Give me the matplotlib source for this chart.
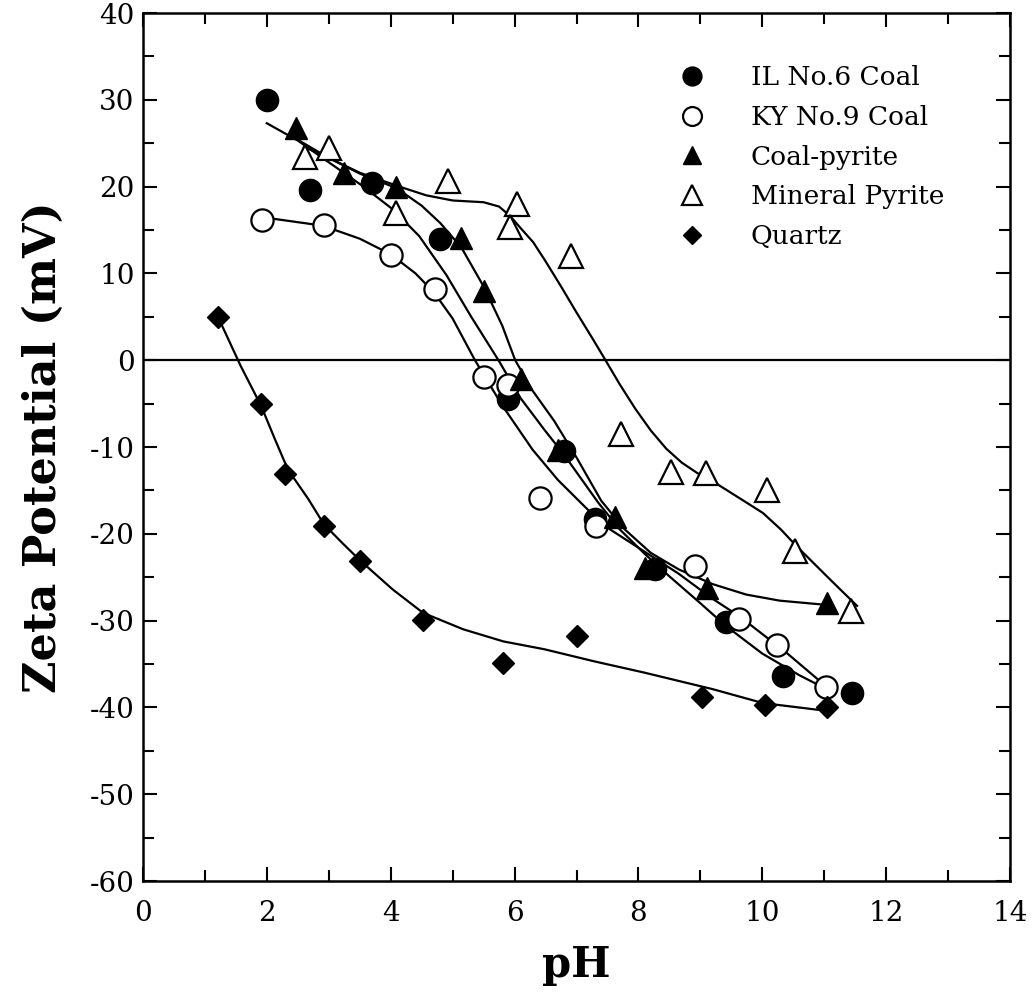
import matplotlib
matplotlib.use("Agg")
import matplotlib.pyplot as plt
from matplotlib.ticker import MultipleLocator

plt.rcParams['font.family'] = ['DejaVu Serif']
plt.rcParams['axes.unicode_minus'] = False

# measured points
il_x = [2.0, 2.7, 3.7, 4.8, 5.9, 6.8, 7.3, 8.27, 9.41, 10.34, 11.45]
il_y = [30.0, 19.6, 20.4, 14.0, -4.5, -10.5, -18.3, -24.1, -30.2, -36.4, -38.3]

ky_x = [1.92, 2.92, 4.0, 4.71, 5.51, 5.9, 6.41, 7.31, 8.92, 9.63, 10.23, 11.03]
ky_y = [16.1, 15.6, 12.1, 8.2, -1.9, -2.8, -15.9, -19.1, -23.7, -29.8, -32.8, -37.7]

cp_x = [2.47, 3.24, 4.08, 5.14, 5.51, 6.11, 6.7, 7.62, 8.11, 9.11, 11.05]
cp_y = [26.8, 21.6, 19.9, 14.1, 8.0, -2.2, -10.4, -18.1, -23.9, -26.2, -28.0]

mp_x = [2.62, 3.0, 4.08, 4.92, 6.04, 5.93, 6.91, 7.72, 8.53, 9.09, 10.07, 10.53, 11.44]
mp_y = [23.4, 24.5, 17.0, 20.7, 18.0, 15.3, 12.0, -8.5, -12.9, -13.0, -15.0, -22.0, -28.9]

qz_x = [1.21, 1.91, 2.30, 2.92, 3.51, 4.52, 5.82, 7.01, 9.03, 10.04, 11.04]
qz_y = [5.0, -5.1, -13.1, -19.1, -23.1, -29.9, -34.9, -31.8, -38.8, -39.7, -39.9]

# fitted curves
il_cx = [2.0, 2.5, 3.0, 3.54, 4.03, 4.46, 4.9, 5.3, 5.74, 6.1, 6.48, 6.8, 7.1, 7.35, 7.7, 8.1, 8.5, 9.0, 9.41, 10.0, 10.6, 11.15]
il_cy = [27.3, 25.3, 22.8, 20.1, 17.4, 14.3, 9.8, 5.0, 0.0, -4.4, -8.0, -10.9, -13.9, -16.4, -19.5, -22.3, -24.9, -28.0, -30.6, -33.8, -36.3, -38.3]

ky_cx = [1.9, 2.9, 3.5, 4.0, 4.4, 4.7, 5.0, 5.36, 5.8, 6.29, 6.7, 7.18, 7.5, 8.0, 8.65, 9.2, 9.63, 10.39, 11.15]
ky_cy = [16.5, 15.5, 14.0, 12.2, 10.0, 7.8, 4.8, 0.0, -5.2, -10.3, -13.8, -17.2, -19.3, -21.6, -24.6, -27.5, -29.5, -33.7, -38.3]

cp_cx = [2.45, 3.0, 3.5, 4.1, 4.5, 4.8, 5.14, 5.5, 5.8, 6.01, 6.3, 6.64, 7.0, 7.4, 7.78, 8.2, 8.65, 9.2, 9.74, 10.28, 11.05]
cp_cy = [25.6, 23.3, 21.5, 19.8, 17.8, 15.8, 13.0, 8.5, 4.0, 0.0, -3.6, -7.0, -11.2, -16.2, -19.5, -22.2, -24.1, -25.8, -27.0, -27.7, -28.2]

mp_cx = [2.6, 3.0, 3.5, 4.14, 4.57, 5.0, 5.5, 5.75, 5.93, 6.1, 6.3, 6.5, 6.75, 7.0, 7.25, 7.46, 7.7, 7.95, 8.2, 8.45, 8.7, 8.95, 9.3, 9.7, 10.01, 10.3, 10.55, 11.1, 11.53]
mp_cy = [24.6, 23.3, 21.6, 20.0, 19.0, 18.4, 18.2, 17.7, 16.6, 15.2, 13.6, 11.4, 8.5, 5.5, 2.6, 0.1, -2.8, -5.6, -8.1, -10.2, -11.8, -13.0, -14.4, -16.2, -17.6, -19.5, -21.4, -25.3, -28.3]

qz_cx = [1.21, 1.58, 1.91, 2.13, 2.34, 2.67, 2.92, 3.21, 3.51, 4.03, 4.52, 5.17, 5.82, 6.48, 7.29, 8.1, 9.2, 10.01, 11.04]
qz_cy = [5.0, -0.7, -5.3, -9.1, -12.6, -16.0, -18.9, -21.0, -23.1, -26.4, -29.1, -31.0, -32.4, -33.3, -34.7, -36.0, -37.9, -39.5, -40.4]

fig = plt.figure(figsize=(10.33, 9.98), dpi=100)
ax = fig.add_axes([143/1033, 1 - 881/998, 867/1033, 868/998])

lw = 1.6
for cx, cy in [(il_cx, il_cy), (ky_cx, ky_cy), (cp_cx, cp_cy), (mp_cx, mp_cy), (qz_cx, qz_cy)]:
    ax.plot(cx, cy, color='black', lw=lw, zorder=2)

ax.axhline(0, color='black', lw=1.6, zorder=1)

ms = 16
ax.plot(il_x, il_y, 'o', ms=ms, mfc='black', mec='black', ls='none', label='IL No.6 Coal', zorder=3)
ax.plot(ky_x, ky_y, 'o', ms=ms, mfc='white', mec='black', mew=1.6, ls='none', label='KY No.9 Coal', zorder=3)
ax.plot(cp_x, cp_y, '^', ms=ms, mfc='black', mec='black', ls='none', label='Coal-pyrite', zorder=3)
ax.plot(mp_x, mp_y, '^', ms=ms + 1, mfc='white', mec='black', mew=1.6, ls='none', label='Mineral Pyrite', zorder=3)
ax.plot(qz_x, qz_y, 'D', ms=11, mfc='black', mec='black', ls='none', label='Quartz', zorder=3)

ax.set_xlim(0, 14)
ax.set_ylim(-60, 40)
ax.xaxis.set_major_locator(MultipleLocator(2))
ax.xaxis.set_minor_locator(MultipleLocator(1))
ax.yaxis.set_major_locator(MultipleLocator(10))
ax.yaxis.set_minor_locator(MultipleLocator(5))
ax.tick_params(which='both', direction='in', top=True, right=True, width=1.5, labelsize=20)
ax.tick_params(which='major', length=10)
ax.tick_params(which='minor', length=8)
ax.tick_params(axis='x', which='major', pad=14)
ax.tick_params(axis='y', which='major', pad=6)
for s in ax.spines.values():
    s.set_linewidth(1.8)

ax.set_xlabel('pH', fontsize=30, fontweight='bold', labelpad=12)
ax.set_ylabel('Zeta Potential (mV)', fontsize=32, fontweight='bold', labelpad=18)

ax.legend(loc='upper left', bbox_to_anchor=(0.619, 0.94), frameon=False, fontsize=19,
          handlelength=0.9, handletextpad=1.8, labelspacing=0.56, borderpad=0,
          borderaxespad=0, markerscale=0.85)

fig.savefig('out.png', dpi=100)
